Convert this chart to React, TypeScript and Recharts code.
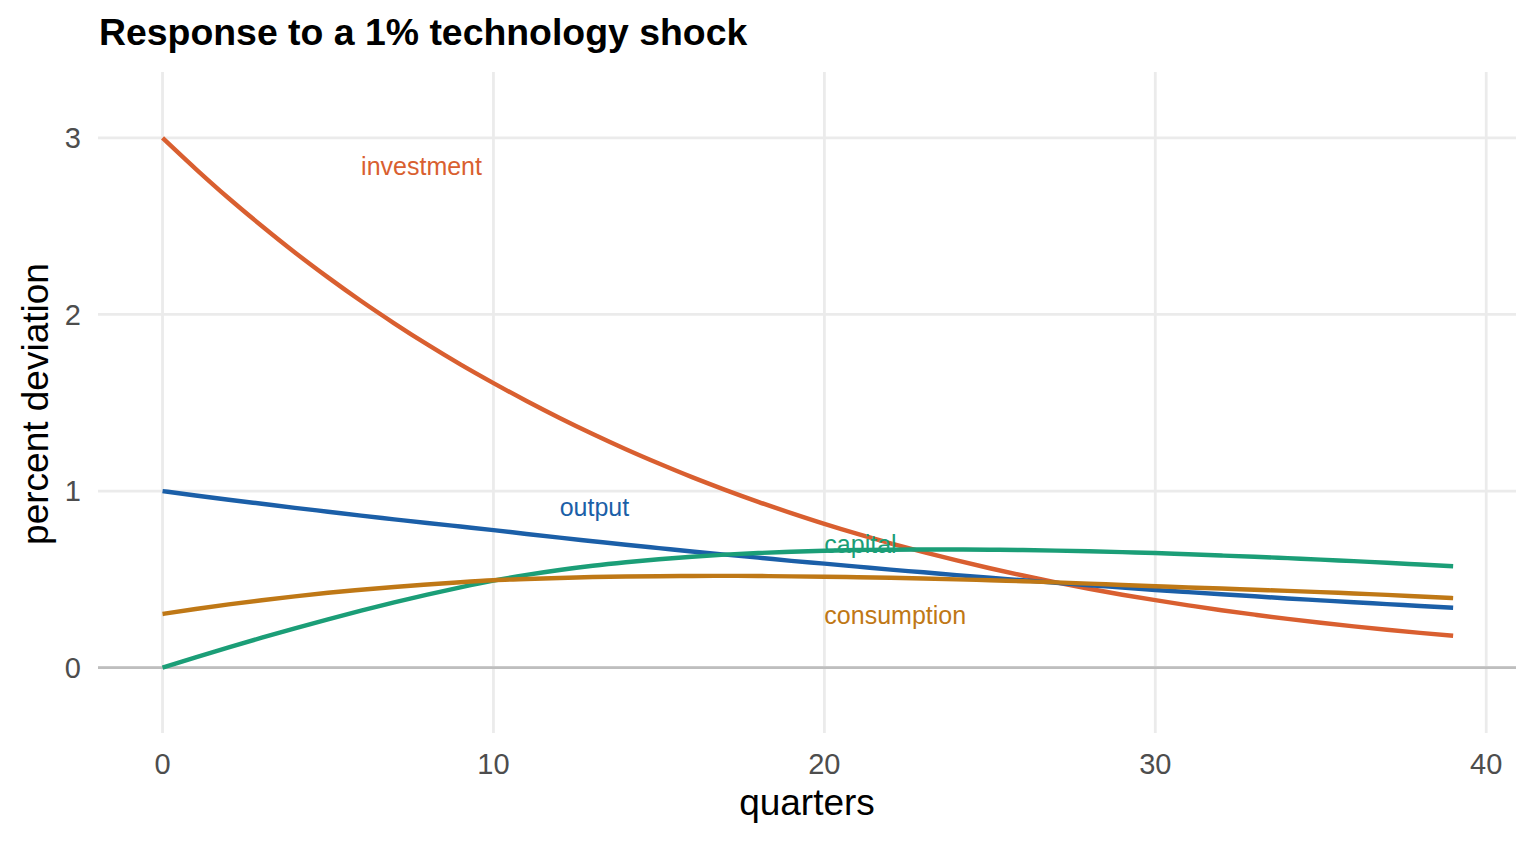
import { CartesianGrid, ComposedChart, Line, ReferenceLine, Scatter, XAxis, YAxis } from "recharts"

const quarters = [
  0, 1, 2, 3, 4, 5, 6, 7, 8, 9, 10, 11, 12, 13, 14, 15, 16, 17, 18, 19,
  20, 21, 22, 23, 24, 25, 26, 27, 28, 29, 30, 31, 32, 33, 34, 35, 36, 37, 38, 39,
]

const investment = [
  3.0, 2.825, 2.658, 2.501, 2.351, 2.21, 2.076, 1.95, 1.83, 1.717, 1.611, 1.51, 1.414, 1.323, 1.237, 1.156, 1.079, 1.007, 0.939, 0.875,
  0.814, 0.757, 0.704, 0.654, 0.607, 0.563, 0.522, 0.483, 0.447, 0.413, 0.382, 0.353, 0.325, 0.3, 0.276, 0.254, 0.234, 0.215, 0.197, 0.181,
]

const output = [
  1.0, 0.975, 0.951, 0.928, 0.905, 0.883, 0.861, 0.84, 0.819, 0.799, 0.779, 0.757, 0.736, 0.716, 0.696, 0.677, 0.658, 0.64, 0.623, 0.605,
  0.589, 0.572, 0.555, 0.54, 0.524, 0.509, 0.495, 0.48, 0.467, 0.453, 0.44, 0.428, 0.416, 0.404, 0.392, 0.381, 0.37, 0.36, 0.349, 0.339,
]

const capital = [
  0, 0.058, 0.115, 0.17, 0.223, 0.274, 0.323, 0.37, 0.414, 0.455, 0.493, 0.525, 0.553, 0.577, 0.597, 0.614, 0.628, 0.64, 0.649, 0.656,
  0.662, 0.666, 0.668, 0.669, 0.669, 0.668, 0.666, 0.663, 0.659, 0.654, 0.649, 0.642, 0.635, 0.628, 0.62, 0.612, 0.603, 0.594, 0.584, 0.574,
]

const consumption = [
  0.304, 0.332, 0.358, 0.382, 0.404, 0.424, 0.441, 0.457, 0.471, 0.484, 0.495, 0.502, 0.508, 0.513, 0.516, 0.518, 0.519, 0.52, 0.519, 0.517,
  0.515, 0.512, 0.509, 0.505, 0.5, 0.495, 0.489, 0.483, 0.476, 0.468, 0.461, 0.454, 0.448, 0.441, 0.435, 0.428, 0.42, 0.412, 0.403, 0.394,
]

const xTicks = [0, 10, 20, 30, 40]
const yTicks = [0, 1, 2, 3]

// where ggplot put the direct labels (data coords, left aligned)
const seriesLabels = [
  { q: 6, v: 2.84, name: "investment" },
  { q: 12, v: 0.91, name: "output" },
  { q: 20, v: 0.7, name: "capital" },
  { q: 20, v: 0.3, name: "consumption" },
]

const colors: Record<string, string> = {
  investment: "#D95F30",
  output: "#1B5FA8",
  capital: "#1B9E77",
  consumption: "#BF7816",
}

const rows = quarters.map((q, i) => ({
  q,
  investment: investment[i],
  output: output[i],
  capital: capital[i],
  consumption: consumption[i],
}))

const font = '"Liberation Sans", Arial, Helvetica, sans-serif'

function SeriesLabel(props: any) {
  const { cx, cy, payload } = props
  return (
    <text x={cx} y={cy} dominantBaseline="central" textAnchor="start" fontSize={25} fontFamily={font} fill={colors[payload.name]}>
      {payload.name}
    </text>
  )
}

export default function App() {
  return (
    <div style={{ position: "relative", width: 1536, height: 844, background: "#fff", fontFamily: font }}>
      <style>{"body{margin:0}"}</style>
      <div style={{ position: "absolute", left: 99, top: 14, fontSize: 37.4, lineHeight: "37px", fontWeight: 700, color: "#000", whiteSpace: "nowrap" }}>
        Response to a 1% technology shock
      </div>
      <div
        style={{
          position: "absolute",
          left: 34.5,
          top: 404,
          fontSize: 37,
          lineHeight: "37px",
          color: "#000",
          whiteSpace: "nowrap",
          transform: "translate(-50%, -50%) rotate(-90deg)",
        }}
      >
        percent deviation
      </div>
      <div
        style={{
          position: "absolute",
          left: 807,
          top: 784,
          fontSize: 37,
          lineHeight: "37px",
          color: "#000",
          whiteSpace: "nowrap",
          transform: "translateX(-50%)",
        }}
      >
        quarters
      </div>
      <div style={{ position: "absolute", left: 0, top: 0 }}>
        <ComposedChart width={1536} height={844} data={rows} margin={{ top: 72, right: 20, bottom: 11, left: 0 }}>
          <CartesianGrid stroke="#EBEBEB" strokeWidth={2.8} horizontalValues={yTicks} verticalValues={xTicks} />
          <XAxis
            dataKey="q"
            type="number"
            domain={[-1.95, 40.9]}
            ticks={xTicks}
            height={100}
            axisLine={false}
            tickLine={false}
            tickSize={0}
            tickMargin={20}
            tick={{ fontSize: 29, fill: "#4D4D4D", fontFamily: font }}
            allowDataOverflow
          />
          <YAxis
            type="number"
            domain={[-0.37, 3.373]}
            ticks={yTicks}
            width={98}
            axisLine={false}
            tickLine={false}
            tickSize={0}
            tickMargin={17}
            tick={{ fontSize: 29, fill: "#4D4D4D", fontFamily: font }}
            allowDataOverflow
          />
          <ReferenceLine y={0} stroke="#BEBEBE" strokeWidth={2.7} />
          <Line type="monotone" dataKey="investment" stroke={colors.investment} strokeWidth={4.4} dot={false} isAnimationActive={false} />
          <Line type="monotone" dataKey="output" stroke={colors.output} strokeWidth={4.4} dot={false} isAnimationActive={false} />
          <Line type="monotone" dataKey="capital" stroke={colors.capital} strokeWidth={4.4} dot={false} isAnimationActive={false} />
          <Line type="monotone" dataKey="consumption" stroke={colors.consumption} strokeWidth={4.4} dot={false} isAnimationActive={false} />
          <Scatter data={seriesLabels} dataKey="v" shape={SeriesLabel} isAnimationActive={false} />
        </ComposedChart>
      </div>
    </div>
  )
}
